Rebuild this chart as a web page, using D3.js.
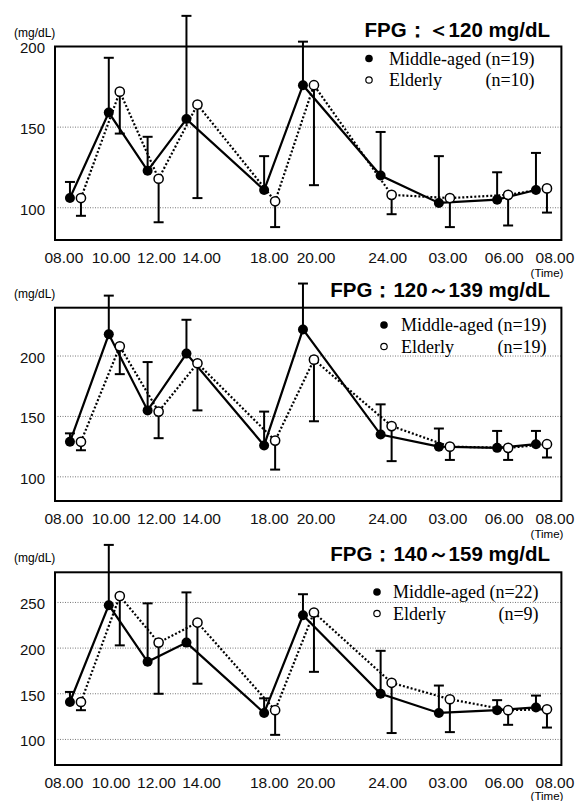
<!DOCTYPE html>
<html>
<head>
<meta charset="utf-8">
<script src="https://cdn.jsdelivr.net/npm/d3@7"></script>
<style>
  body { margin: 0; background: #fff; }
  svg { display: block; }
  .tick text { font-family: "Liberation Sans", Arial, sans-serif; fill: #111; }
</style>
</head>
<body>
<svg id="chart" width="577" height="801"></svg>
<script>
// time points (hours after 08.00) and the x labels
var hours = [0, 2, 4, 6, 10, 12, 16, 19, 22, 24];
var timeLabels = ["08.00", "10.00", "12.00", "14.00", "18.00", "20.00", "24.00", "03.00", "06.00", "08.00"];
var labelHours = [-0.34, 2.09, 4.43, 6.75, 10.24, 12.65, 16.34, 19.44, 22.34, 24.95];

var titles = ["FPG：＜120 mg/dL", "FPG：120～139 mg/dL", "FPG：140～159 mg/dL"];
var midN = [19, 19, 22];
var eldN = [10, 19, 9];
var yTicks = [[100, 150, 200], [100, 150, 200], [100, 150, 200, 250]];

// FPG < 120
var mid1 = [106, 159, 123, 155, 111, 176, 120, 103, 105, 111];
var mid1Sd = [10, 34, 21, 64, 21, 27, 27, 29, 17, 23];
var eld1 = [106, 172, 118, 164, 104, 176, 108, 106, 108, 112];
var eld1Sd = [11, 26, 27, 58, 16, 62, 12, 18, 19, 15];

// FPG 120-139
var mid2 = [129, 218, 155, 202, 126, 222, 135, 125, 124, 127];
var mid2Sd = [7, 32, 40, 28, 28, 38, 25, 15, 14, 11];
var eld2 = [129, 208, 154, 194, 130, 197, 142, 125, 124, 127];
var eld2Sd = [7, 23, 22, 39, 24, 51, 29, 11, 10, 11];

// FPG 140-159
var mid3 = [141, 247, 185, 206, 129, 236, 150, 129, 132, 135];
var mid3Sd = [11, 66, 64, 55, 16, 23, 47, 30, 11, 13];
var eld3 = [141, 257, 206, 228, 132, 239, 162, 144, 132, 133];
var eld3Sd = [9, 54, 56, 67, 27, 65, 55, 36, 16, 20];

var panels = [
    {top: 46.5, bottom: 240, domain: [80, 200], mid: mid1, midSd: mid1Sd, eld: eld1, eldSd: eld1Sd,
     legX: 369, legTextX: 389, legY: 58.5, titleY: 37},
    {top: 307.7, bottom: 501, domain: [80, 240], mid: mid2, midSd: mid2Sd, eld: eld2, eldSd: eld2Sd,
     legX: 384, legTextX: 401, legY: 325, titleY: 297},
    {top: 572.3, bottom: 765, domain: [72, 283], mid: mid3, midSd: mid3Sd, eld: eld3, eldSd: eld3Sd,
     legX: 377, legTextX: 393, legY: 592, titleY: 561}
];

var svg = d3.select("#chart");
var left = 55, right = 561.4;
var eldShift = 11; // elderly points drawn a bit to the right

var x = d3.scaleLinear()
    .domain([-0.77, 25.31])
    .range([left, right]);

var sans = "'Liberation Sans', Arial, sans-serif";
var serif = "'Liberation Serif', 'Times New Roman', serif";

panels.forEach(function(p, k) {
    var y = d3.scaleLinear()
        .domain(p.domain)
        .range([p.bottom, p.top]);

    var g = svg.append("g");

    // grid lines
    g.selectAll(".grid")
        .data(yTicks[k].filter(function(v) { return v < p.domain[1] - 1; }))
        .enter().append("line")
        .attr("x1", left)
        .attr("x2", right)
        .attr("y1", function(d) { return y(d); })
        .attr("y2", function(d) { return y(d); })
        .attr("stroke", "#777")
        .attr("stroke-width", 1)
        .attr("stroke-dasharray", "1,1.5");

    // frame
    g.append("rect")
        .attr("x", left)
        .attr("y", p.top)
        .attr("width", right - left)
        .attr("height", p.bottom - p.top)
        .attr("fill", "none")
        .attr("stroke", "#000")
        .attr("stroke-width", 2);

    // y axis
    var yAxis = g.append("g")
        .attr("transform", "translate(" + left + ",0)")
        .call(d3.axisLeft(y).tickValues(yTicks[k]).tickSize(0).tickPadding(10));
    yAxis.select(".domain").remove();
    yAxis.selectAll("text")
        .attr("dy", "0.42em")
        .style("font-size", "15px");

    g.append("text")
        .attr("x", 14)
        .attr("y", p.top - 10)
        .style("font-family", sans)
        .style("font-size", "12px")
        .text("(mg/dL)");

    // x axis
    var xAxis = g.append("g")
        .attr("transform", "translate(0," + p.bottom + ")")
        .call(d3.axisBottom(x).tickValues(labelHours).tickSize(0).tickPadding(0)
            .tickFormat(function(d, i) { return timeLabels[i]; }));
    xAxis.select(".domain").remove();
    xAxis.selectAll("text")
        .attr("y", 22.5)
        .attr("dy", null)
        .style("font-size", "15.5px");

    g.append("text")
        .attr("x", right + 2)
        .attr("y", Math.min(p.bottom + 37, 800))
        .attr("text-anchor", "end")
        .style("font-family", sans)
        .style("font-size", "11.5px")
        .text("(Time)");

    // title
    g.append("text")
        .attr("x", 550)
        .attr("y", p.titleY)
        .attr("text-anchor", "end")
        .style("font-family", sans)
        .style("font-weight", "bold")
        .style("font-size", "20.5px")
        .text(titles[k]);

    // lines
    var midLine = d3.line()
        .x(function(d, i) { return x(hours[i]); })
        .y(function(d) { return y(d); });
    var eldLine = d3.line()
        .x(function(d, i) { return x(hours[i]) + eldShift; })
        .y(function(d) { return y(d); });

    g.append("path")
        .attr("d", eldLine(p.eld))
        .attr("fill", "none")
        .attr("stroke", "#000")
        .attr("stroke-width", 2.2)
        .attr("stroke-dasharray", "2,2");

    g.append("path")
        .attr("d", midLine(p.mid))
        .attr("fill", "none")
        .attr("stroke", "#000")
        .attr("stroke-width", 2.2);

    // error bars: middle-aged upward, elderly downward
    var bars = [];
    p.mid.forEach(function(v, i) {
        bars.push({cx: x(hours[i]), y0: y(v), y1: y(v + p.midSd[i])});
    });
    p.eld.forEach(function(v, i) {
        bars.push({cx: x(hours[i]) + eldShift, y0: y(v), y1: y(v - p.eldSd[i])});
    });

    g.selectAll(".bar")
        .data(bars)
        .enter().append("line")
        .attr("x1", function(d) { return d.cx; })
        .attr("x2", function(d) { return d.cx; })
        .attr("y1", function(d) { return d.y0; })
        .attr("y2", function(d) { return d.y1; })
        .attr("stroke", "#000")
        .attr("stroke-width", 2);

    g.selectAll(".cap")
        .data(bars)
        .enter().append("line")
        .attr("x1", function(d) { return d.cx - 5; })
        .attr("x2", function(d) { return d.cx + 5; })
        .attr("y1", function(d) { return d.y1; })
        .attr("y2", function(d) { return d.y1; })
        .attr("stroke", "#000")
        .attr("stroke-width", 2);

    // markers
    g.selectAll(".eld")
        .data(p.eld)
        .enter().append("circle")
        .attr("cx", function(d, i) { return x(hours[i]) + eldShift; })
        .attr("cy", function(d) { return y(d); })
        .attr("r", 4.6)
        .attr("fill", "#fff")
        .attr("stroke", "#000")
        .attr("stroke-width", 1.5);

    g.selectAll(".mid")
        .data(p.mid)
        .enter().append("circle")
        .attr("cx", function(d, i) { return x(hours[i]); })
        .attr("cy", function(d) { return y(d); })
        .attr("r", 5)
        .attr("fill", "#000");

    // legend
    g.append("circle")
        .attr("cx", p.legX)
        .attr("cy", p.legY)
        .attr("r", 3.8)
        .attr("fill", "#000");
    g.append("circle")
        .attr("cx", p.legX)
        .attr("cy", p.legY + 21.5)
        .attr("r", 3.2)
        .attr("fill", "#fff")
        .attr("stroke", "#000")
        .attr("stroke-width", 1.2);

    var row1 = g.append("text")
        .attr("x", p.legTextX)
        .attr("y", p.legY + 6)
        .style("font-family", serif)
        .style("font-size", "18px")
        .text("Middle-aged (n=" + midN[k] + ")");
    var endX = p.legTextX + row1.node().getComputedTextLength();

    g.append("text")
        .attr("x", p.legTextX)
        .attr("y", p.legY + 27.5)
        .style("font-family", serif)
        .style("font-size", "18px")
        .text("Elderly");
    g.append("text")
        .attr("x", endX)
        .attr("y", p.legY + 27.5)
        .attr("text-anchor", "end")
        .style("font-family", serif)
        .style("font-size", "18px")
        .text("(n=" + eldN[k] + ")");
});
</script>
</body>
</html>
